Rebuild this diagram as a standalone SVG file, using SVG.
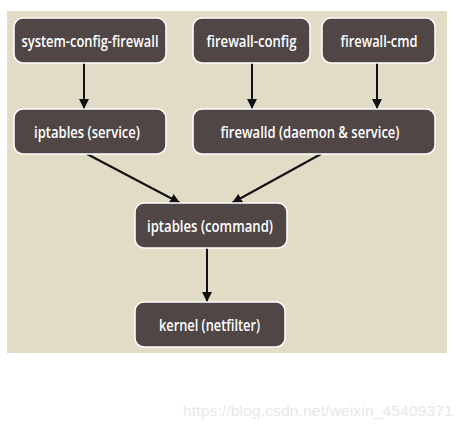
<svg xmlns="http://www.w3.org/2000/svg" width="462" height="429" viewBox="0 0 462 429">
<style>
.node rect{fill:#4f4645;stroke:#ffffff;stroke-width:1.5}
.node text{fill:#ffffff;font-family:"Open Sans","Liberation Sans",sans-serif;font-weight:600;font-size:16px;text-anchor:middle}
.edge{stroke:#111111;stroke-width:2;fill:none;marker-end:url(#ah)}
.wm{fill:#e8e8e8;font-family:"Liberation Sans",Arial,sans-serif;font-size:15px}
</style>
<defs>
<marker id="ah" viewBox="0 0 10 10" refX="10" refY="5" markerWidth="5" markerHeight="5" orient="auto" markerUnits="strokeWidth">
<path d="M0,0 L10,5 L0,10 z" fill="#111111"/>
</marker>
</defs>
<rect width="462" height="429" fill="#ffffff"/>
<rect x="7" y="11" width="440" height="342" fill="#e2dcc6"/>
<g id="connectors">
<line class="edge" x1="84" y1="63" x2="84" y2="109"/>
<line class="edge" x1="252" y1="63" x2="252" y2="109"/>
<line class="edge" x1="377" y1="63" x2="377" y2="109"/>
<line class="edge" x1="87" y1="154" x2="180" y2="203"/>
<line class="edge" x1="321" y1="154" x2="232" y2="203"/>
<line class="edge" x1="207" y1="248" x2="207" y2="302"/>
</g>
<g id="n-scf" class="node"><rect x="14" y="18" width="152" height="45" rx="9"/><text x="90" y="46.5" textLength="137" lengthAdjust="spacingAndGlyphs">system-config-firewall</text></g>
<g id="n-fwconfig" class="node"><rect x="193" y="18" width="117" height="45" rx="9"/><text x="251.5" y="46.5" textLength="90" lengthAdjust="spacingAndGlyphs">firewall-config</text></g>
<g id="n-fwcmd" class="node"><rect x="322" y="18" width="113" height="45" rx="9"/><text x="379" y="46.5" textLength="77" lengthAdjust="spacingAndGlyphs">firewall-cmd</text></g>
<g id="n-iptsvc" class="node"><rect x="14" y="109" width="152" height="45" rx="9"/><text x="87" y="137.5" textLength="106" lengthAdjust="spacingAndGlyphs">iptables (service)</text></g>
<g id="n-firewalld" class="node"><rect x="193" y="109" width="242" height="45" rx="9"/><text x="310" y="137.5" textLength="179" lengthAdjust="spacingAndGlyphs">firewalld (daemon &amp; service)</text></g>
<g id="n-iptcmd" class="node"><rect x="135" y="203" width="152" height="45" rx="9"/><text x="210" y="231.5" textLength="126" lengthAdjust="spacingAndGlyphs">iptables (command)</text></g>
<g id="n-kernel" class="node"><rect x="135" y="302" width="150" height="45" rx="9"/><text x="209.5" y="330.5" textLength="101" lengthAdjust="spacingAndGlyphs">kernel (netfilter)</text></g>
<text class="wm" x="183" y="416" textLength="270" lengthAdjust="spacingAndGlyphs">https://blog.csdn.net/weixin_45409371</text>
</svg>
